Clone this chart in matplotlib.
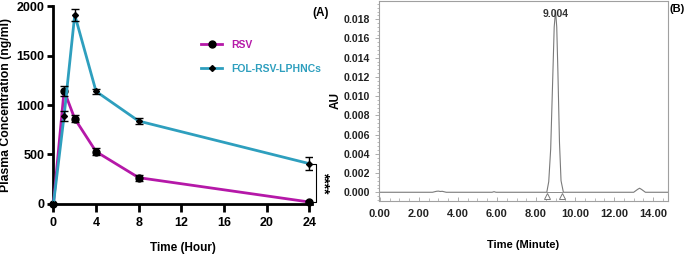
import numpy as np
import matplotlib.pyplot as plt
from matplotlib.ticker import MultipleLocator, FormatStrFormatter

plt.rcParams['font.family'] = ['Liberation Sans', 'DejaVu Sans']
plt.rcParams['font.weight'] = 'bold'

# panel A: plasma concentration
t_hour = [0, 1, 2, 4, 8, 24]
rsv = [0, 1145, 862, 529, 266, 20]
rsv_err = [0, 49, 37, 39, 29, 10]
fol = [0, 889, 1912, 1138, 838, 408]
fol_err = [0, 55, 62, 27, 29, 64]

# panel B: chromatogram
t_min = [-0.05, 2.7, 2.9, 3.0, 3.1, 3.2, 3.4, 5.75, 5.85, 5.95, 8.55, 8.65, 8.75, 8.85, 8.93, 9.0,
         9.06, 9.12, 9.2, 9.28, 9.4, 13.0, 13.2, 13.3, 13.4, 13.6, 14.75]
au = [0.0, 0.0, 0.0001, 0.00012, 0.00008, 0.0001, 0.0, 0.0, 0.00006, 0.0, 0.0, 0.0011, 0.0045,
      0.0115, 0.0172, 0.0189, 0.0172, 0.0125, 0.0052, 0.0012, 0.0, 0.0, 0.0003, 0.00042, 0.0003, 0.0, 0.0]
peak_rt = 9.004
peak_au = 0.0186
bounds = [8.55, 9.32]

fig = plt.figure(figsize=(6.85, 2.54), dpi=100)

magenta = '#B518A8'
teal = '#2E9FBE'

ax = fig.add_axes([0.078, 0.197, 0.378, 0.779])
ax.errorbar(t_hour, rsv, yerr=rsv_err, fmt='none', ecolor='black', elinewidth=1, capsize=3, zorder=4)
ax.errorbar(t_hour, fol, yerr=fol_err, fmt='none', ecolor='black', elinewidth=1, capsize=3, zorder=4)
ax.plot(t_hour, rsv, color=magenta, lw=2, marker='o', ms=5, mfc='black', mec='black',
        label='RSV', zorder=3, clip_on=False)
ax.plot(t_hour, fol, color=teal, lw=2, marker='D', ms=3, mfc='black', mec='black',
        label='FOL-RSV-LPHNCs', zorder=3, clip_on=False)
ax.set_xlim(0, 24.3)
ax.set_ylim(0, 2000)
ax.set_xticks([0, 4, 8, 12, 16, 20, 24])
ax.set_yticks([0, 500, 1000, 1500, 2000])
for s in ['top', 'right']:
    ax.spines[s].set_visible(False)
for s in ['left', 'bottom']:
    ax.spines[s].set_linewidth(2)
ax.tick_params(axis='x', width=2, length=5.5, labelsize=9, pad=4)
ax.tick_params(axis='y', width=2, length=4.5, labelsize=9, pad=2)
ax.set_xlabel('Time (Hour)', fontsize=8.5, fontweight='bold', labelpad=9)
ax.set_ylabel('Plasma Concentration (ng/ml)', fontsize=8.8, fontweight='bold', labelpad=3)
for lab in ax.get_xticklabels() + ax.get_yticklabels():
    lab.set_fontweight('bold')

# significance bracket
xb = 24.63
ax.plot([24.25, xb, xb, 24.25], [fol[-1], fol[-1], rsv[-1], rsv[-1]], color='black', lw=0.8, clip_on=False)
ax.text(xb + 0.1, (fol[-1] + rsv[-1]) / 2, '****', rotation=270, ha='left', va='center',
        fontsize=10, fontweight='bold')

leg = ax.legend(loc='upper left', bbox_to_anchor=(0.555, 0.85), frameon=False, fontsize=7.5,
                handlelength=2.0, labelspacing=1.35, handletextpad=0.9, borderaxespad=0)
for txt, col in zip(leg.get_texts(), [magenta, teal]):
    txt.set_color(col)
    txt.set_fontweight('bold')
ax.text(1.0, 0.995, '(A)', transform=ax.transAxes, ha='left', va='top', fontsize=8.5, fontweight='bold')

# panel B
bx = fig.add_axes([0.553, 0.209, 0.422, 0.787])
bx.plot(t_min, au, color='#7a7a7a', lw=0.8)
bx.plot(bounds, [0.0, 0.0], color='#7a7a7a', lw=0.6)
bx.plot(bounds, [-0.0004, -0.0004], linestyle='none', marker='^', ms=5, mfc='white', mec='#7a7a7a', mew=0.7)
bx.text(peak_rt, peak_au, f'{peak_rt:.3f}', ha='center', va='center', fontsize=7.5, color='#333333')
bx.set_xlim(-0.05, 14.75)
bx.set_ylim(-0.0009, 0.0199)
bx.xaxis.set_major_locator(MultipleLocator(2))
bx.xaxis.set_minor_locator(MultipleLocator(0.5))
bx.xaxis.set_major_formatter(FormatStrFormatter('%.2f'))
bx.yaxis.set_major_locator(MultipleLocator(0.002))
bx.yaxis.set_minor_locator(MultipleLocator(0.0004))
bx.yaxis.set_major_formatter(FormatStrFormatter('%.3f'))
for s in bx.spines.values():
    s.set_color('#a0a0a0')
    s.set_linewidth(0.8)
bx.tick_params(axis='x', direction='in', length=3, width=0.6, color='#a0a0a0', pad=6, labelsize=8)
bx.tick_params(axis='x', which='minor', direction='in', length=2, width=0.5, color='#a0a0a0')
bx.tick_params(axis='y', direction='out', length=3, width=0.6, color='#a0a0a0', labelsize=7.6)
bx.tick_params(axis='y', which='minor', direction='out', length=1.5, width=0.5, color='#a0a0a0')
for lab in bx.get_xticklabels() + bx.get_yticklabels():
    lab.set_fontweight('bold')
    lab.set_color('#222222')
bx.set_xlabel('Time (Minute)', fontsize=8, fontweight='bold', labelpad=15)
bx.set_ylabel('AU', fontsize=8.5, fontweight='bold', labelpad=1)
fig.text(0.999, 0.985, '(B)', ha='right', va='top', fontsize=8, fontweight='bold')

fig.savefig('out.png', dpi=100)
